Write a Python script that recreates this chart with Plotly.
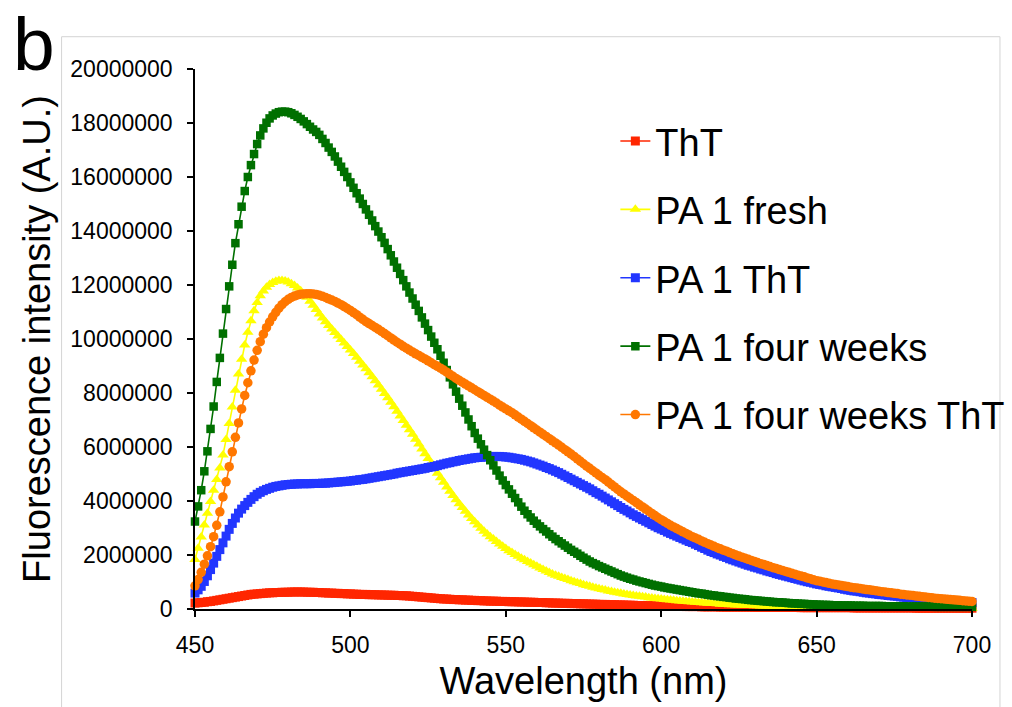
import plotly.graph_objects as go

# Wavelength grid (nm), 1 nm steps as in the measured spectra
wavelength_nm = list(range(450, 701))

series_names = ["ThT", "PA 1 fresh", "PA 1 ThT", "PA 1 four weeks", "PA 1 four weeks ThT"]

# Fluorescence intensity in millions of A.U. (450 ... 700 nm)
tht_M = [
    0.22, 0.23, 0.24, 0.25, 0.27, 0.28, 0.30, 0.32, 0.34, 0.36,
    0.38, 0.40, 0.42, 0.44, 0.46, 0.48, 0.50, 0.52, 0.54, 0.55,
    0.56, 0.57, 0.58, 0.59, 0.60, 0.60, 0.61, 0.61, 0.62, 0.62,
    0.62, 0.63, 0.63, 0.63, 0.63, 0.63, 0.62, 0.62, 0.62, 0.61,
    0.61, 0.60, 0.60, 0.59, 0.59, 0.58, 0.58, 0.57, 0.57, 0.56,
    0.56, 0.55, 0.55, 0.54, 0.54, 0.54, 0.53, 0.53, 0.53, 0.52,
    0.52, 0.52, 0.51, 0.51, 0.51, 0.50, 0.50, 0.49, 0.49, 0.48,
    0.47, 0.46, 0.45, 0.44, 0.43, 0.42, 0.41, 0.40, 0.39, 0.38,
    0.37, 0.37, 0.36, 0.35, 0.35, 0.34, 0.34, 0.33, 0.33, 0.32,
    0.32, 0.31, 0.31, 0.30, 0.30, 0.29, 0.29, 0.29, 0.28, 0.28,
    0.28, 0.27, 0.27, 0.27, 0.26, 0.26, 0.26, 0.25, 0.25, 0.25,
    0.24, 0.24, 0.24, 0.23, 0.23, 0.22, 0.22, 0.22, 0.21, 0.21,
    0.21, 0.20, 0.20, 0.20, 0.19, 0.19, 0.19, 0.18, 0.18, 0.18,
    0.17, 0.17, 0.17, 0.16, 0.16, 0.16, 0.15, 0.15, 0.15, 0.14,
    0.14, 0.14, 0.13, 0.13, 0.13, 0.12, 0.12, 0.12, 0.12, 0.11,
    0.11, 0.11, 0.11, 0.10, 0.10, 0.10, 0.10, 0.10, 0.09, 0.09,
    0.09, 0.09, 0.09, 0.08, 0.08, 0.08, 0.08, 0.08, 0.08, 0.07,
    0.07, 0.07, 0.07, 0.07, 0.07, 0.07, 0.07, 0.07, 0.07, 0.07,
    0.06, 0.06, 0.06, 0.06, 0.06, 0.06, 0.06, 0.06, 0.06, 0.06,
    0.06, 0.06, 0.06, 0.06, 0.06, 0.05, 0.05, 0.05, 0.05, 0.05,
    0.05, 0.05, 0.05, 0.05, 0.05, 0.05, 0.05, 0.05, 0.05, 0.05,
    0.05, 0.05, 0.04, 0.04, 0.04, 0.04, 0.04, 0.04, 0.04, 0.04,
    0.04, 0.04, 0.04, 0.04, 0.04, 0.04, 0.04, 0.04, 0.04, 0.04,
    0.04, 0.04, 0.03, 0.03, 0.03, 0.03, 0.03, 0.03, 0.03, 0.03,
    0.03, 0.03, 0.03, 0.03, 0.03, 0.03, 0.03, 0.03, 0.03, 0.03,
    0.03,
]

pa1_fresh_M = [
    1.83, 2.25, 2.67, 3.11, 3.55, 3.98, 4.40, 4.80, 5.22, 5.70,
    6.28, 6.87, 7.48, 8.10, 8.70, 9.25, 9.78, 10.25, 10.68, 11.05,
    11.35, 11.60, 11.78, 11.92, 12.02, 12.09, 12.14, 12.17, 12.17, 12.15,
    12.11, 12.05, 11.98, 11.89, 11.79, 11.68, 11.55, 11.40, 11.25, 11.09,
    10.93, 10.78, 10.64, 10.50, 10.37, 10.24, 10.11, 9.98, 9.85, 9.72,
    9.59, 9.46, 9.32, 9.18, 9.04, 8.90, 8.75, 8.60, 8.45, 8.30,
    8.14, 7.98, 7.82, 7.66, 7.49, 7.32, 7.15, 6.98, 6.81, 6.64,
    6.47, 6.29, 6.11, 5.93, 5.75, 5.57, 5.39, 5.21, 5.03, 4.86,
    4.69, 4.52, 4.36, 4.20, 4.05, 3.90, 3.76, 3.62, 3.48, 3.35,
    3.23, 3.11, 2.99, 2.88, 2.78, 2.68, 2.59, 2.50, 2.41, 2.32,
    2.24, 2.16, 2.09, 2.02, 1.95, 1.88, 1.82, 1.76, 1.70, 1.64,
    1.58, 1.52, 1.46, 1.41, 1.35, 1.30, 1.25, 1.21, 1.17, 1.13,
    1.09, 1.05, 1.01, 0.97, 0.94, 0.90, 0.87, 0.84, 0.81, 0.78,
    0.75, 0.72, 0.70, 0.67, 0.65, 0.62, 0.60, 0.58, 0.56, 0.54,
    0.52, 0.50, 0.48, 0.47, 0.45, 0.44, 0.42, 0.41, 0.39, 0.38,
    0.37, 0.35, 0.34, 0.33, 0.32, 0.31, 0.30, 0.29, 0.28, 0.27,
    0.26, 0.25, 0.24, 0.23, 0.22, 0.21, 0.21, 0.20, 0.19, 0.18,
    0.18, 0.17, 0.16, 0.16, 0.15, 0.15, 0.14, 0.14, 0.13, 0.13,
    0.12, 0.12, 0.11, 0.11, 0.11, 0.10, 0.10, 0.10, 0.09, 0.09,
    0.09, 0.08, 0.08, 0.08, 0.08, 0.07, 0.07, 0.07, 0.07, 0.07,
    0.06, 0.06, 0.06, 0.06, 0.05, 0.05, 0.05, 0.05, 0.05, 0.05,
    0.05, 0.04, 0.04, 0.04, 0.04, 0.04, 0.04, 0.04, 0.04, 0.04,
    0.04, 0.04, 0.04, 0.03, 0.03, 0.03, 0.03, 0.03, 0.03, 0.03,
    0.03, 0.03, 0.03, 0.03, 0.03, 0.03, 0.03, 0.03, 0.03, 0.03,
    0.02, 0.02, 0.02, 0.02, 0.02, 0.02, 0.02, 0.02, 0.02, 0.02,
    0.02,
]

pa1_tht_M = [
    0.59, 0.71, 0.84, 1.02, 1.23, 1.46, 1.70, 1.95, 2.20, 2.45,
    2.70, 2.95, 3.17, 3.37, 3.55, 3.70, 3.83, 3.95, 4.06, 4.16,
    4.25, 4.32, 4.38, 4.43, 4.47, 4.51, 4.54, 4.56, 4.58, 4.60,
    4.61, 4.62, 4.63, 4.63, 4.64, 4.64, 4.64, 4.64, 4.65, 4.65,
    4.65, 4.66, 4.66, 4.67, 4.68, 4.69, 4.70, 4.71, 4.72, 4.73,
    4.74, 4.76, 4.77, 4.79, 4.80, 4.82, 4.84, 4.86, 4.88, 4.90,
    4.92, 4.94, 4.96, 4.98, 5.00, 5.03, 5.05, 5.07, 5.09, 5.11,
    5.13, 5.15, 5.17, 5.19, 5.21, 5.24, 5.26, 5.28, 5.31, 5.34,
    5.37, 5.40, 5.42, 5.45, 5.47, 5.50, 5.52, 5.54, 5.56, 5.58,
    5.60, 5.61, 5.62, 5.63, 5.64, 5.65, 5.65, 5.65, 5.65, 5.64,
    5.63, 5.62, 5.60, 5.58, 5.56, 5.54, 5.51, 5.48, 5.45, 5.41,
    5.37, 5.33, 5.29, 5.24, 5.20, 5.15, 5.10, 5.05, 4.99, 4.93,
    4.87, 4.81, 4.75, 4.69, 4.63, 4.57, 4.51, 4.45, 4.38, 4.31,
    4.25, 4.18, 4.11, 4.04, 3.97, 3.90, 3.83, 3.76, 3.69, 3.63,
    3.56, 3.49, 3.43, 3.37, 3.31, 3.25, 3.19, 3.13, 3.07, 3.01,
    2.96, 2.91, 2.85, 2.80, 2.75, 2.70, 2.65, 2.60, 2.55, 2.50,
    2.46, 2.40, 2.35, 2.29, 2.24, 2.18, 2.13, 2.09, 2.04, 2.00,
    1.95, 1.91, 1.86, 1.82, 1.78, 1.74, 1.70, 1.66, 1.62, 1.59,
    1.55, 1.52, 1.48, 1.45, 1.41, 1.38, 1.35, 1.31, 1.28, 1.25,
    1.22, 1.19, 1.16, 1.13, 1.10, 1.07, 1.04, 1.01, 0.99, 0.96,
    0.93, 0.91, 0.89, 0.86, 0.84, 0.82, 0.80, 0.78, 0.76, 0.73,
    0.71, 0.69, 0.67, 0.66, 0.64, 0.62, 0.60, 0.59, 0.57, 0.56,
    0.54, 0.53, 0.52, 0.50, 0.49, 0.48, 0.47, 0.45, 0.44, 0.43,
    0.42, 0.41, 0.40, 0.39, 0.38, 0.37, 0.36, 0.35, 0.34, 0.33,
    0.32, 0.31, 0.30, 0.30, 0.29, 0.28, 0.27, 0.26, 0.26, 0.25,
    0.24,
]

pa1_four_weeks_M = [
    3.24, 3.80, 4.40, 5.10, 5.84, 6.67, 7.50, 8.41, 9.30, 10.20,
    11.11, 11.95, 12.75, 13.55, 14.25, 14.90, 15.48, 16.00, 16.44, 16.85,
    17.22, 17.54, 17.80, 18.01, 18.17, 18.28, 18.35, 18.40, 18.42, 18.42,
    18.40, 18.36, 18.30, 18.23, 18.15, 18.06, 17.96, 17.86, 17.76, 17.67,
    17.56, 17.41, 17.26, 17.09, 16.93, 16.76, 16.57, 16.38, 16.19, 16.00,
    15.80, 15.60, 15.40, 15.20, 15.00, 14.80, 14.60, 14.39, 14.18, 13.98,
    13.77, 13.56, 13.33, 13.10, 12.87, 12.64, 12.41, 12.18, 11.95, 11.72,
    11.50, 11.27, 11.04, 10.80, 10.57, 10.33, 10.09, 9.86, 9.62, 9.38,
    9.12, 8.85, 8.58, 8.32, 8.05, 7.79, 7.53, 7.28, 7.02, 6.77,
    6.52, 6.31, 6.10, 5.90, 5.70, 5.51, 5.32, 5.13, 4.94, 4.76,
    4.59, 4.43, 4.27, 4.11, 3.95, 3.79, 3.64, 3.51, 3.39, 3.27,
    3.16, 3.06, 2.96, 2.87, 2.77, 2.68, 2.59, 2.51, 2.43, 2.35,
    2.27, 2.19, 2.12, 2.05, 1.97, 1.90, 1.83, 1.76, 1.70, 1.65,
    1.59, 1.54, 1.49, 1.44, 1.39, 1.34, 1.29, 1.24, 1.20, 1.16,
    1.12, 1.09, 1.05, 1.02, 0.99, 0.96, 0.93, 0.90, 0.87, 0.85,
    0.83, 0.80, 0.78, 0.76, 0.74, 0.72, 0.70, 0.68, 0.66, 0.64,
    0.62, 0.60, 0.58, 0.57, 0.55, 0.53, 0.51, 0.50, 0.48, 0.47,
    0.45, 0.44, 0.42, 0.41, 0.39, 0.38, 0.37, 0.36, 0.34, 0.33,
    0.32, 0.31, 0.30, 0.29, 0.28, 0.27, 0.26, 0.25, 0.25, 0.24,
    0.23, 0.22, 0.21, 0.21, 0.20, 0.19, 0.19, 0.18, 0.17, 0.17,
    0.16, 0.16, 0.15, 0.15, 0.15, 0.14, 0.14, 0.14, 0.13, 0.13,
    0.13, 0.13, 0.12, 0.12, 0.12, 0.12, 0.11, 0.11, 0.11, 0.11,
    0.11, 0.11, 0.10, 0.10, 0.10, 0.10, 0.10, 0.10, 0.10, 0.09,
    0.09, 0.09, 0.09, 0.09, 0.09, 0.09, 0.09, 0.09, 0.08, 0.08,
    0.08, 0.08, 0.08, 0.08, 0.08, 0.08, 0.08, 0.08, 0.08, 0.08,
    0.08,
]

pa1_four_weeks_tht_M = [
    0.86, 1.09, 1.36, 1.66, 1.97, 2.31, 2.68, 3.10, 3.60, 4.15,
    4.71, 5.27, 5.82, 6.36, 6.89, 7.41, 7.91, 8.38, 8.82, 9.22,
    9.58, 9.90, 10.18, 10.42, 10.63, 10.82, 10.99, 11.14, 11.27, 11.38,
    11.47, 11.54, 11.59, 11.63, 11.66, 11.67, 11.68, 11.68, 11.67, 11.65,
    11.62, 11.58, 11.54, 11.49, 11.44, 11.39, 11.33, 11.27, 11.20, 11.13,
    11.06, 10.98, 10.90, 10.81, 10.73, 10.64, 10.57, 10.50, 10.43, 10.36,
    10.28, 10.20, 10.12, 10.04, 9.96, 9.88, 9.81, 9.73, 9.66, 9.59,
    9.52, 9.45, 9.39, 9.32, 9.26, 9.19, 9.12, 9.05, 8.99, 8.92,
    8.85, 8.77, 8.69, 8.62, 8.54, 8.47, 8.40, 8.33, 8.26, 8.19,
    8.12, 8.05, 7.98, 7.91, 7.84, 7.77, 7.70, 7.63, 7.55, 7.48,
    7.41, 7.34, 7.27, 7.19, 7.11, 7.03, 6.95, 6.87, 6.79, 6.71,
    6.63, 6.55, 6.47, 6.39, 6.31, 6.23, 6.15, 6.07, 5.99, 5.90,
    5.82, 5.74, 5.65, 5.56, 5.47, 5.38, 5.29, 5.21, 5.12, 5.04,
    4.95, 4.87, 4.79, 4.70, 4.61, 4.52, 4.43, 4.34, 4.26, 4.18,
    4.10, 4.02, 3.94, 3.86, 3.78, 3.70, 3.62, 3.54, 3.46, 3.38,
    3.31, 3.24, 3.17, 3.10, 3.04, 2.98, 2.92, 2.86, 2.80, 2.74,
    2.68, 2.63, 2.58, 2.52, 2.47, 2.42, 2.37, 2.32, 2.27, 2.23,
    2.18, 2.14, 2.09, 2.05, 2.00, 1.96, 1.92, 1.88, 1.84, 1.80,
    1.76, 1.72, 1.68, 1.65, 1.61, 1.57, 1.53, 1.50, 1.46, 1.43,
    1.39, 1.36, 1.32, 1.29, 1.25, 1.22, 1.19, 1.15, 1.12, 1.08,
    1.05, 1.03, 1.00, 0.98, 0.95, 0.93, 0.91, 0.89, 0.87, 0.85,
    0.83, 0.81, 0.79, 0.78, 0.76, 0.74, 0.72, 0.71, 0.69, 0.68,
    0.66, 0.64, 0.63, 0.61, 0.60, 0.58, 0.57, 0.55, 0.54, 0.52,
    0.51, 0.50, 0.48, 0.47, 0.45, 0.44, 0.43, 0.42, 0.40, 0.39,
    0.38, 0.37, 0.36, 0.35, 0.34, 0.33, 0.32, 0.31, 0.30, 0.29,
    0.28,
]

x_tick_vals = [450, 500, 550, 600, 650, 700]
x_tick_labels = ["450", "500", "550", "600", "650", "700"]
y_tick_vals = [0, 2000000, 4000000, 6000000, 8000000, 10000000,
               12000000, 14000000, 16000000, 18000000, 20000000]
y_tick_labels = ["0", "2000000", "4000000", "6000000", "8000000", "10000000",
                 "12000000", "14000000", "16000000", "18000000", "20000000"]

all_series = [tht_M, pa1_fresh_M, pa1_tht_M, pa1_four_weeks_M, pa1_four_weeks_tht_M]
for s in all_series:
    assert len(s) == len(wavelength_nm), len(s)

colors = ["#FF2600", "#FFFF00", "#2236FF", "#007000", "#FF7700"]
symbols = ["square", "triangle-up", "square", "square", "circle"]
sizes = [9, 10, 9, 8.5, 9.5]

FONT = "Liberation Sans, Arial, Helvetica, sans-serif"

fig = go.Figure()
for i, (name, vals) in enumerate(zip(series_names, all_series)):
    fig.add_trace(go.Scatter(
        x=wavelength_nm,
        y=[v * 1e6 for v in vals],
        mode="lines+markers",
        name=name,
        legendgroup=name,
        line=dict(color=colors[i], width=1.6),
        marker=dict(symbol=symbols[i], size=sizes[i], color=colors[i], line=dict(width=0)),
        cliponaxis=False,
    ))

# light frame around the figure panel
fig.add_shape(type="rect", xref="paper", yref="paper",
              x0=-0.1717, x1=1.036, y0=-0.19, y1=1.0598,
              line=dict(color="#D4D4D4", width=1), fillcolor="rgba(0,0,0,0)", layer="below")

fig.add_annotation(text="b", xref="paper", yref="paper", x=-0.237, y=1.128,
                   xanchor="left", yanchor="top", showarrow=False,
                   font=dict(family=FONT, size=75, color="black"))

fig.update_layout(
    width=1012, height=707,
    margin=dict(l=194.5, r=40, t=69.3, b=97.7, autoexpand=False),
    paper_bgcolor="white", plot_bgcolor="white",
    font=dict(family=FONT, color="black"),
    showlegend=True,
    legend=dict(
        x=0.541, y=0.9245, xanchor="left", yanchor="top",
        font=dict(family=FONT, size=38, color="black"),
        itemwidth=30, tracegroupgap=16,
        bgcolor="rgba(0,0,0,0)",
    ),
    xaxis=dict(
        range=[450, 700], tickmode="array", tickvals=x_tick_vals, ticktext=x_tick_labels,
        showline=True, linecolor="black", linewidth=1.5,
        ticks="outside", ticklen=6, tickwidth=1.5, tickcolor="black",
        showgrid=False, zeroline=False, automargin=False,
        tickfont=dict(family=FONT, size=23, color="black"),
        ticklabelstandoff=9,
        title=dict(text="Wavelength (nm)", font=dict(family=FONT, size=38, color="black"), standoff=10),
    ),
    yaxis=dict(
        range=[0, 20000000], tickmode="array", tickvals=y_tick_vals, ticktext=y_tick_labels,
        showline=True, linecolor="black", linewidth=1.5,
        ticks="outside", ticklen=6, tickwidth=1.5, tickcolor="black",
        showgrid=False, zeroline=False, automargin=False,
        tickfont=dict(family=FONT, size=23, color="black"),
        ticklabelstandoff=10,
        title=dict(text="Fluorescence intensity (A.U.)", font=dict(family=FONT, size=38, color="black"), standoff=8),
    ),
)

fig.write_html("out.html")
